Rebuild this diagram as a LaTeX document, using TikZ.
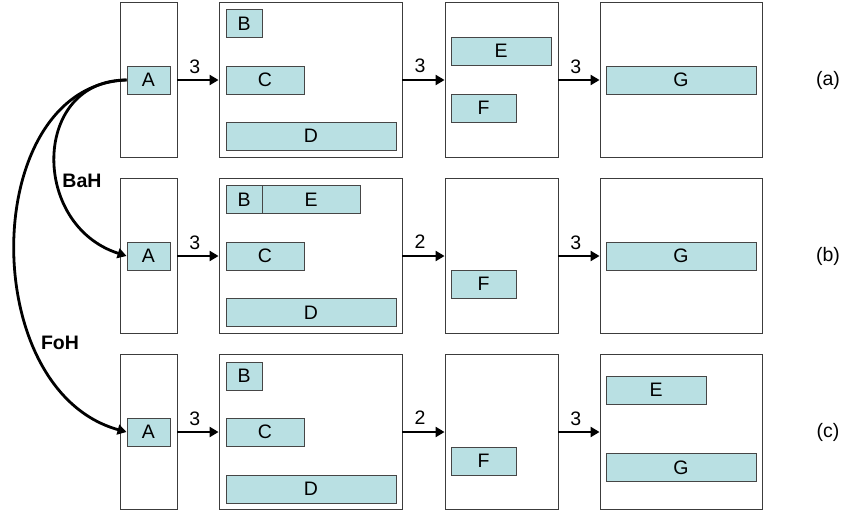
\documentclass[tikz,border=0pt]{standalone}
\usepackage{fontspec}
\setmainfont{Liberation Sans}
\usetikzlibrary{arrows.meta}
\definecolor{cellfill}{RGB}{185,224,227}
\definecolor{celldraw}{RGB}{70,70,70}
\definecolor{framedraw}{RGB}{60,60,60}
\begin{document}
\begin{tikzpicture}[x=1pt,y=-1pt,
  frame/.style={draw=framedraw,line width=0.9pt,fill=white,minimum height=155pt,inner sep=0pt},
  cell/.style={draw=celldraw,line width=0.9pt,fill=cellfill,minimum height=28pt,inner sep=0pt,font=\fontsize{19.5}{21}\selectfont},
  flow/.style={line width=2.8pt,-{Triangle[length=9pt,width=10pt]}},
  hop/.style={line width=2.8pt,-{Triangle[length=9pt,width=10pt]}},
  num/.style={font=\fontsize{19.5}{21}\selectfont,inner sep=0pt},
  tag/.style={font=\fontsize{19.5}{21}\selectfont,inner sep=0pt},
  hoplbl/.style={font=\bfseries\fontsize{19.5}{21}\selectfont,inner sep=0pt}]
\useasboundingbox (0,0) rectangle (848,514);
% ---------- row frames ----------
\foreach \r/\y in {a/80,b/256,c/432}{
  \node[frame,minimum width=57pt]  (\r1) at (148.5,\y) {};
  \node[frame,minimum width=183pt] (\r2) at (310.5,\y) {};
  \node[frame,minimum width=113pt] (\r3) at (501.5,\y) {};
  \node[frame,minimum width=162pt] (\r4) at (681,\y) {};
  \node[cell,minimum width=43pt] (\r A) at (148.5,\y) {A};
  \node[cell,minimum width=78pt] (\r C) at (265,\y) {C};
}
% ---------- row (a) ----------
\node[cell,minimum width=36pt]  (aB) at (244,23.5) {B};
\node[cell,minimum width=170pt] (aD) at (311,136) {D};
\node[cell,minimum width=100pt] (aE) at (501,51) {E};
\node[cell,minimum width=65pt]  (aF) at (483.5,108) {F};
\node[cell,minimum width=150pt] (aG) at (681,80) {G};
% ---------- row (b) ----------
\node[cell,minimum width=36pt]  (bB) at (244,199.5) {B};
\node[cell,minimum width=98pt]  (bE) at (311,199.5) {E};
\node[cell,minimum width=170pt] (bD) at (311,312.5) {D};
\node[cell,minimum width=65pt]  (bF) at (483.5,284) {F};
\node[cell,minimum width=150pt] (bG) at (681,256) {G};
% ---------- row (c) ----------
\node[cell,minimum width=36pt]  (cB) at (244,376) {B};
\node[cell,minimum width=170pt] (cD) at (311,489) {D};
\node[cell,minimum width=65pt]  (cF) at (483.5,461) {F};
\node[cell,minimum width=100pt] (cE) at (656,390) {E};
\node[cell,minimum width=150pt] (cG) at (681,467.5) {G};
% ---------- flow arrows ----------
\foreach \r/\p/\q/\s in {a/3/3/3,b/3/2/3,c/3/2/3}{
  \draw[flow] (\r1.east) -- node[num,pos=0.42,above=5pt] {\p} (\r2.west);
  \draw[flow] (\r2.east) -- node[num,pos=0.42,above=6pt] {\q} (\r3.west);
  \draw[flow] (\r3.east) -- node[num,pos=0.42,above=5pt] {\s} (\r4.west);
}
% ---------- row tags ----------
\node[tag] (ta) at (828,80) {(a)};
\node[tag] (tb) at (828,256) {(b)};
\node[tag] (tc) at (828,432) {(c)};
% ---------- hops ----------
\draw[hop] (aA.west) .. controls (32,80) and (30,225) .. (bA.west);
\draw[hop] (aA.west) .. controls (-20,85) and (-25,390) .. (cA.west);
\node[hoplbl] (bah) at (82,181) {BaH};
\node[hoplbl] (foh) at (60,343) {FoH};
\end{tikzpicture}
\end{document}
